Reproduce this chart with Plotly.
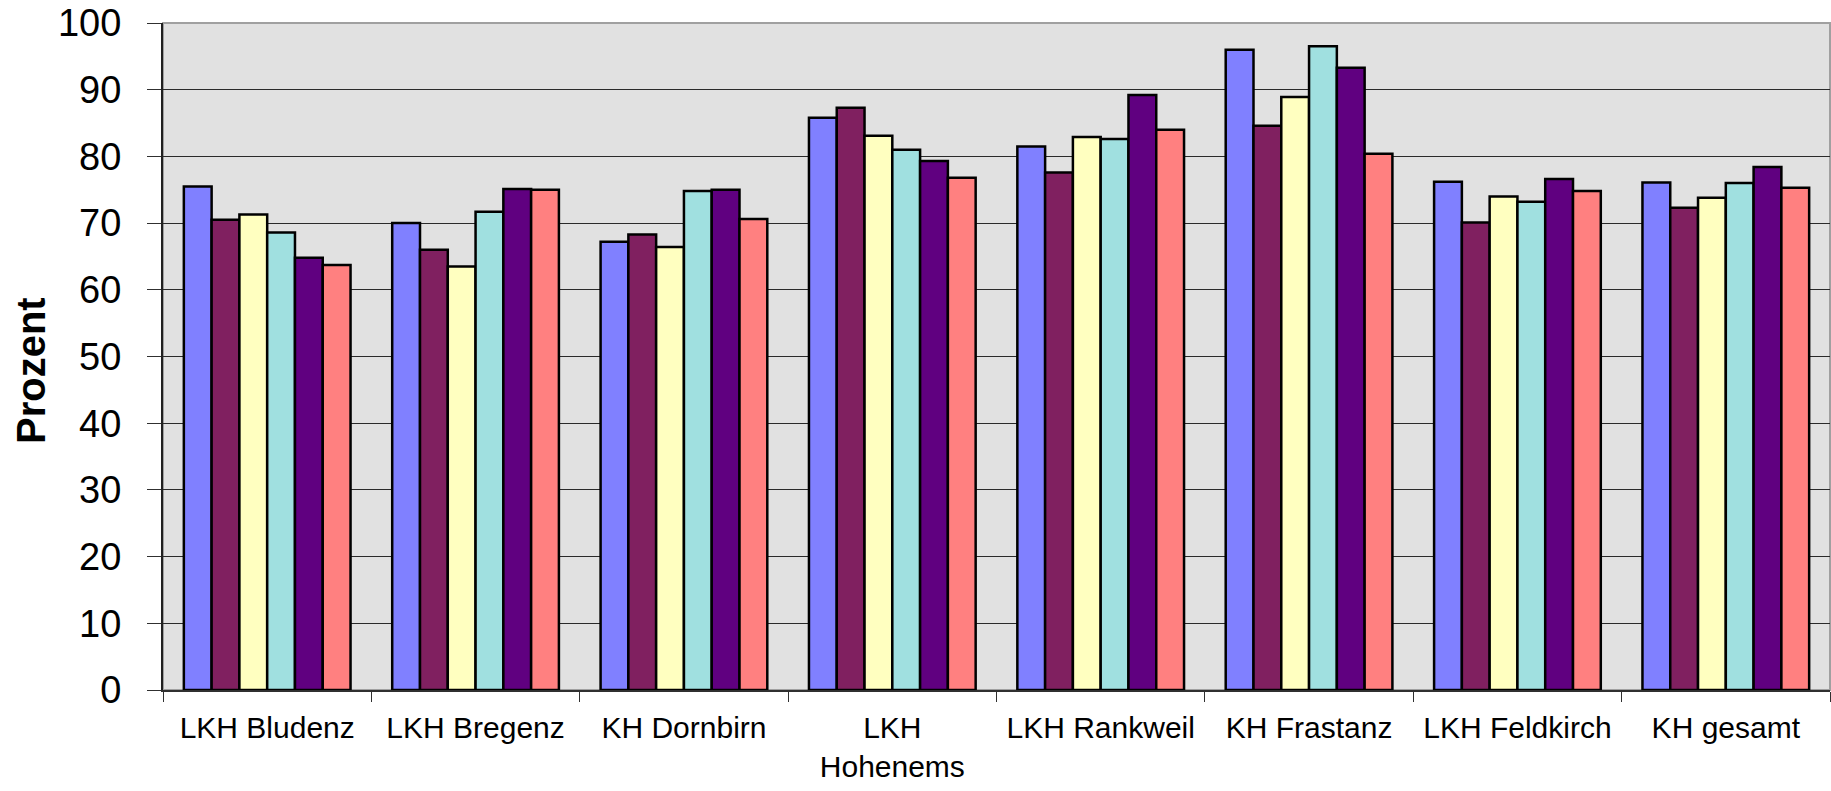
import plotly.graph_objects as go

categories = ["LKH Bludenz", "LKH Bregenz", "KH Dornbirn", "LKH<br>Hohenems",
              "LKH Rankweil", "KH Frastanz", "LKH Feldkirch", "KH gesamt"]

series_names = ["Serie 1", "Serie 2", "Serie 3", "Serie 4", "Serie 5", "Serie 6"]
s1 = [75.5, 70.0, 67.2, 85.8, 81.5, 96.0, 76.2, 76.1]
s2 = [70.5, 66.0, 68.3, 87.3, 77.6, 84.6, 70.1, 72.3]
s3 = [71.3, 63.5, 66.4, 83.1, 82.9, 88.9, 74.0, 73.8]
s4 = [68.6, 71.7, 74.8, 81.0, 82.6, 96.5, 73.2, 76.0]
s5 = [64.8, 75.1, 75.0, 79.3, 89.2, 93.3, 76.6, 78.4]
s6 = [63.7, 75.0, 70.6, 76.8, 84.0, 80.4, 74.8, 75.3]
series_values = [s1, s2, s3, s4, s5, s6]
colors = ["#8080FF", "#802060", "#FFFFC0", "#A0E0E0", "#600080", "#FF8080"]

y_ticks = [0, 10, 20, 30, 40, 50, 60, 70, 80, 90, 100]
y_title = "Prozent"

FONT = "Liberation Sans, Arial, sans-serif"

W, H = 1831, 791
ML, MR, MT, MB = 163, 1, 23, 101
PW = W - ML - MR
PH = H - MT - MB

fig = go.Figure()
for name, vals, col in zip(series_names, series_values, colors):
    fig.add_trace(go.Bar(
        x=categories, y=vals, name=name,
        marker=dict(color=col, line=dict(color="black", width=2.5)),
        showlegend=False,
    ))

fig.update_layout(
    width=W, height=H,
    margin=dict(l=ML, r=MR, t=MT, b=MB, autoexpand=False),
    paper_bgcolor="white",
    plot_bgcolor="#E1E1E1",
    barmode="group",
    bargap=0.2,
    bargroupgap=0,
    font=dict(family=FONT, color="black"),
    xaxis=dict(
        type="category",
        automargin=False,
        showline=True, linecolor="#303030", linewidth=2,
        ticks="outside", tickson="boundaries", ticklen=10, tickcolor="#303030", tickwidth=1,
        tickfont=dict(size=30, family=FONT, color="black"),
        ticklabelstandoff=10,
        ticklabeloverflow="allow",
        showgrid=False,
    ),
    yaxis=dict(
        range=[0, 100],
        automargin=False,
        tickvals=y_ticks,
        ticktext=[str(v) for v in y_ticks],
        showline=True, linecolor="#202020", linewidth=2,
        ticks="outside", ticklen=14, tickcolor="#303030", tickwidth=1,
        tickfont=dict(size=38, family=FONT, color="black"),
        ticklabelstandoff=18,
        ticklabeloverflow="allow",
        showgrid=True, gridcolor="#2a2a2a", gridwidth=1,
        zeroline=False,
    ),
    shapes=[dict(type="rect", xref="paper", yref="paper", x0=0, x1=1, y0=0, y1=1,
                 line=dict(color="#A0A0A0", width=2), layer="below")],
    annotations=[dict(
        text="<b>" + y_title + "</b>", textangle=-90,
        xref="paper", yref="paper", x=(31 - ML) / PW, y=(690 - 371) / PH,
        xanchor="center", yanchor="middle", showarrow=False,
        font=dict(size=40, family=FONT, color="black"),
    )],
)

# remove the browser's default 8px body margin so the figure sits at the page origin
fig.write_html("out.html",
               config={"displayModeBar": False},
               post_script="document.body.style.margin='0';document.body.style.overflow='hidden';")
